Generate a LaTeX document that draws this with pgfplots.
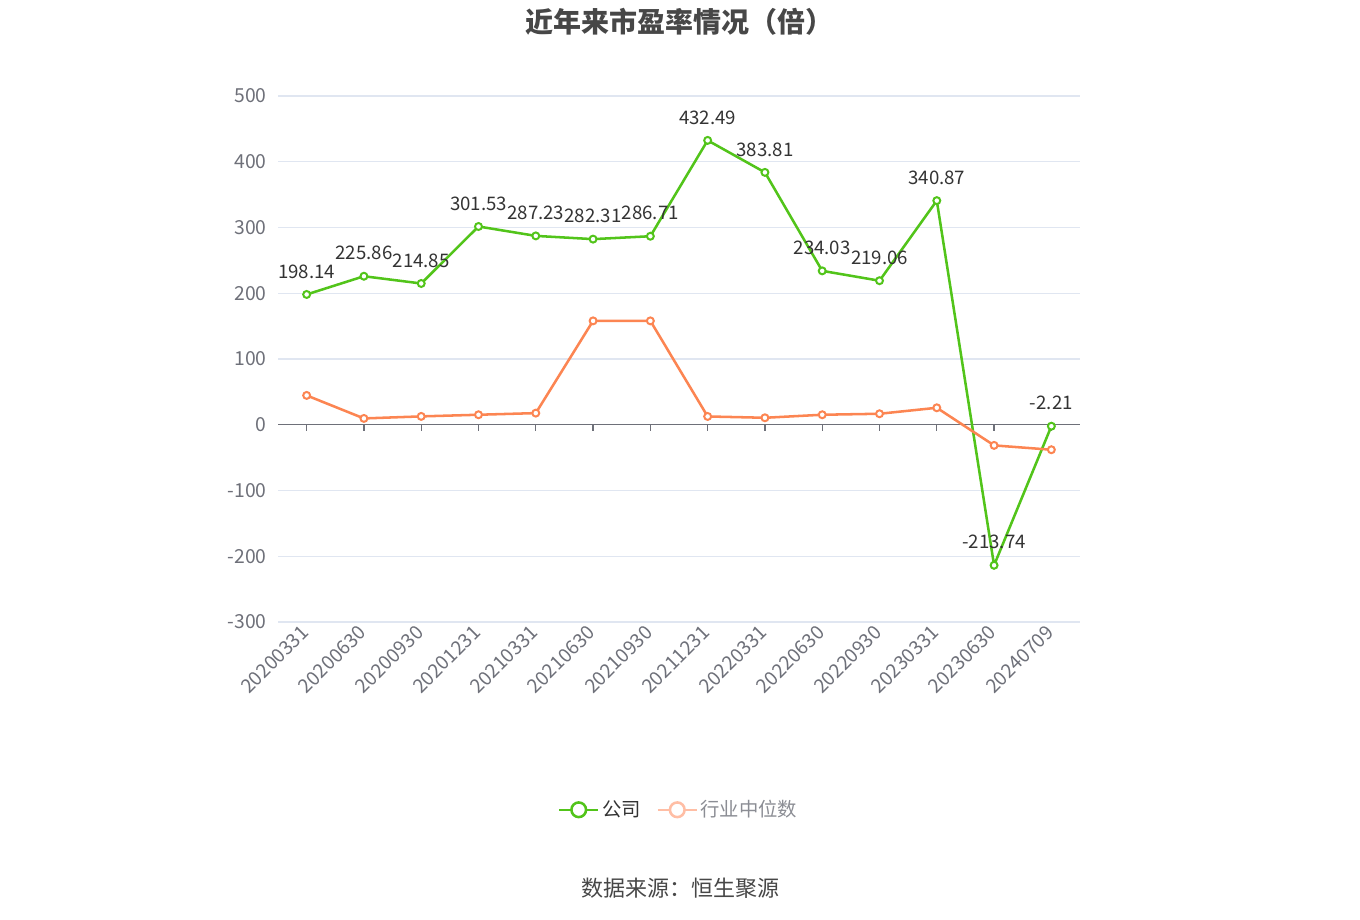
\documentclass[border=0pt]{standalone}
\usepackage{pgfplots}
\pgfplotsset{compat=1.18}
\usepackage{fontspec}
\setmainfont{Noto Sans CJK SC}

\definecolor{gongsi}{RGB}{82,196,26}
\definecolor{hangye}{RGB}{252,133,82}
\definecolor{hangyefade}{RGB}{255,190,165}
\definecolor{gridc}{RGB}{224,230,241}
\definecolor{tickc}{RGB}{110,112,121}
\definecolor{labc}{RGB}{51,51,51}

\begin{document}
\begin{tikzpicture}
  \path[use as bounding box] (0,0) rectangle (1020pt,690pt);

  \node[font=\fontsize{21}{24}\selectfont\bfseries, text=labc!90] at (509.5pt,674pt) {近年来市盈率情况（倍）};

  \begin{axis}[
    at={(208.5pt,223.5pt)}, anchor=south west,
    width=601.5pt, height=394.5pt, scale only axis,
    xmin=-0.5, xmax=13.5,
    ymin=-300, ymax=500,
    ytick={-300,-200,...,500},
    xtick={0,...,13},
    xticklabels={20200331,20200630,20200930,20201231,20210331,20210630,20210930,
                 20211231,20220331,20220630,20220930,20230331,20230630,20240709},
    major tick length=0pt,
    axis line style={draw=none},
    ymajorgrids, grid style={gridc, line width=0.8pt},
    /pgf/number format/assume math mode=true,
    tick label style={font=\fontsize{14.5}{16}\selectfont, text=tickc},
    yticklabel style={xshift=-5pt},
    xticklabel style={rotate=45, anchor=east, yshift=-3pt, xshift=-1pt},
    legend style={at={(0.5,-0.357)}, anchor=center, draw=none,
                  font=\fontsize{14.5}{16}\selectfont, legend columns=2,
                  /tikz/every even column/.append style={column sep=10pt}},
    legend cell align=left,
    nodes near coords,
    point meta=explicit symbolic,
    every node near coord/.append style={font=\fontsize{14}{16}\selectfont, text=labc, anchor=south, yshift=8pt},
  ]
    \draw[tickc, line width=1pt] (axis cs:-0.5,0) -- (axis cs:13.5,0);
    \pgfplotsinvokeforeach{0,...,13}{\draw[tickc, line width=1pt] (axis cs:#1,0) -- ([yshift=-4.5pt]axis cs:#1,0);}

    \addplot[gongsi, line width=1.9pt, mark=*, mark size=2.6pt,
             mark options={fill=white, line width=1.5pt},
             legend image code/.code={
               \draw[gongsi, line width=1.9pt] (0pt,0pt) -- (29pt,0pt);
               \draw[gongsi, line width=1.9pt, fill=white] (14.5pt,0pt) circle (5.5pt);}]
      coordinates {
        (0,198.14) [198.14]
        (1,225.86) [225.86]
        (2,214.85) [214.85]
        (3,301.53) [301.53]
        (4,287.23) [287.23]
        (5,282.31) [282.31]
        (6,286.71) [286.71]
        (7,432.49) [432.49]
        (8,383.81) [383.81]
        (9,234.03) [234.03]
        (10,219.06) [219.06]
        (11,340.87) [340.87]
        (12,-213.74) [-213.74]
        (13,-2.21) [-2.21]
      };
    \addlegendentry{\textcolor{labc}{公司}}

    \addplot[hangye, line width=1.9pt, mark=*, mark size=2.6pt,
             mark options={fill=white, line width=1.5pt},
             nodes near coords={},
             legend image code/.code={
               \draw[hangyefade, line width=1.9pt] (0pt,0pt) -- (29pt,0pt);
               \draw[hangyefade, line width=1.9pt, fill=white] (14.5pt,0pt) circle (5.5pt);}]
      coordinates {
        (0,44.6) [] (1,9.6) [] (2,12.7) [] (3,15.2) [] (4,17.7) []
        (5,158) [] (6,158) [] (7,12.6) [] (8,10.6) [] (9,15.2)  []
        (10,16.7) [] (11,25.8) [] (12,-31.4) [] (13,-38) []
      };
    \addlegendentry{\textcolor{tickc!80}{行业中位数}}
  \end{axis}

  \node[font=\fontsize{16.5}{19}\selectfont, text=labc!90] at (510pt,24pt) {数据来源：恒生聚源};
\end{tikzpicture}
\end{document}
